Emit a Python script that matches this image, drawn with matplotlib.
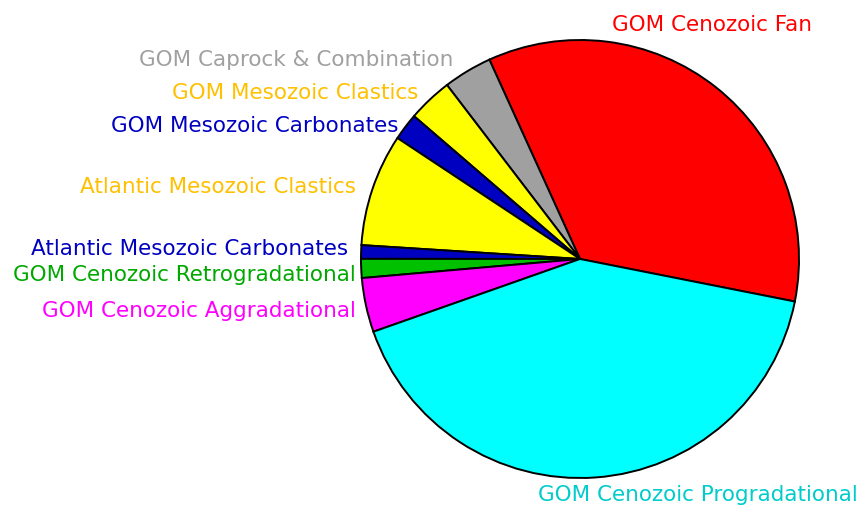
import matplotlib
matplotlib.use("Agg")
import matplotlib.pyplot as plt

# Share of each play type (percent), listed counter-clockwise from the
# Fan / Progradational boundary on the right-hand side.
plays = [
    "GOM Cenozoic Fan",
    "GOM Caprock & Combination",
    "GOM Mesozoic Clastics",
    "GOM Mesozoic Carbonates",
    "Atlantic Mesozoic Clastics",
    "Atlantic Mesozoic Carbonates",
    "GOM Cenozoic Retrogradational",
    "GOM Cenozoic Aggradational",
    "GOM Cenozoic Progradational",
]
shares = [34.9, 3.6, 3.3, 2.0, 8.3, 1.0, 1.4, 4.0, 41.5]

wedge_colors = ["#ff0000", "#a0a0a0", "#ffff00", "#0000c0", "#ffff00",
                "#0000c0", "#00c000", "#ff00ff", "#00ffff"]
label_colors = ["#ff0000", "#a0a0a0", "#ffc000", "#0000c0", "#ffc000",
                "#0000c0", "#00a800", "#ff00ff", "#00cccc"]

W, H = 863, 506
fig = plt.figure(figsize=(W / 100, H / 100), dpi=100)
ax = fig.add_axes([0, 0, 1, 1])

cx, cy, r = 580, H - 260, 219
ax.pie(shares, colors=wedge_colors, startangle=-11.2, counterclock=True,
       center=(cx, cy), radius=r, frame=True,
       wedgeprops=dict(edgecolor="black", linewidth=1.4))
ax.set_xlim(0, W)
ax.set_ylim(0, H)
ax.set_aspect("equal")
ax.axis("off")

# label anchor (x, y-from-top, alignment)
label_pos = [
    (612, 25, "left"),
    (453, 60, "right"),
    (418, 93, "right"),
    (398, 126, "right"),
    (356, 187, "right"),
    (348, 249, "right"),
    (356, 275, "right"),
    (356, 311, "right"),
    (858, 495, "right"),
]
for name, col, (x, y, ha) in zip(plays, label_colors, label_pos):
    ax.text(x, H - y, name, color=col, ha=ha, va="center",
            fontsize=15.5, family="DejaVu Sans")

fig.savefig("out.png", dpi=100)
